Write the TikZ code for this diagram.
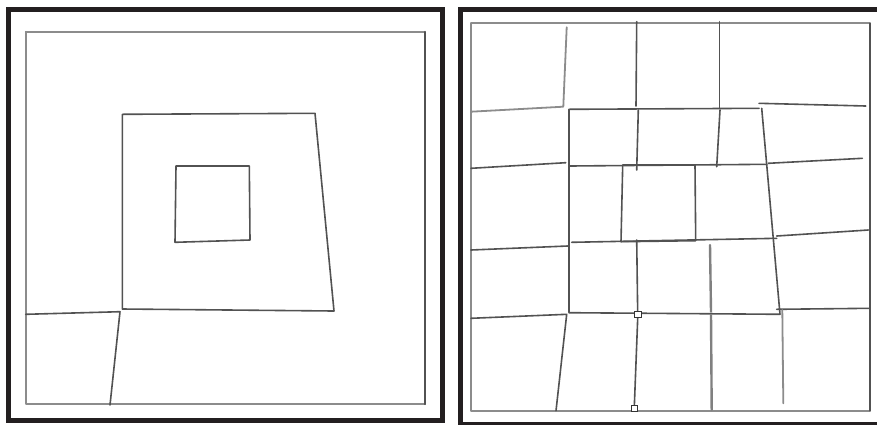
\documentclass[tikz,border=0pt]{standalone}
\begin{document}
\begin{tikzpicture}[x=1pt,y=-1pt,
  frame/.style={line width=5pt,draw={rgb,255:red,35;green,31;blue,32}},
  wall/.style={line width=1.6pt,draw=black!68,line cap=round,line join=round},
  lightwall/.style={line width=1.8pt,draw=black!45,line cap=round,line join=round},
  thickwall/.style={line width=2.4pt,draw=black!50,line cap=round},
  mark box/.style={draw=black!80,line width=0.8pt,fill=white,minimum size=6.5pt,inner sep=0pt}]
\useasboundingbox (0,0) rectangle (877,424);
\fill[white] (0,0) rectangle (877,424);
% ---------- left panel ----------
\draw[frame] (8.5,9.8) rectangle (442.5,420.5);
\draw[lightwall] (25.7,31.7) -- (425,31.7);
\draw[lightwall] (25.7,31.7) -- (25.7,404.3) -- (425,404.3);
\draw[wall] (425,31.7) -- (425,404.3);
\draw[wall] (122.3,114.3) -- (315,113.3) -- (334,311) -- (122.3,309) -- cycle;
\draw[wall] (176,166) -- (249.3,166) -- (250,240) -- (175,242.3) -- cycle;
\draw[wall] (25.7,314.3) -- (120,311.7) -- (110,405);
% ---------- right panel ----------
\begin{scope}
\clip (455,0) rectangle (877,424);
\draw[frame] (460.8,9.8) rectangle (900,424.8);
\end{scope}
\draw[lightwall] (471,23.3) -- (870,23.3);
\draw[lightwall] (471,23.3) -- (471,410.7) -- (870,410.7);
\draw[wall] (870,23.3) -- (870,410.7);
% top row
\draw[lightwall] (566.7,27.3) -- (563.3,106.7) -- (471,111.7);
\draw[wall] (636.7,21.7) -- (636,106);
\draw[wall] (719.3,21.7) -- (719.3,108.3);
% second ring
\draw[wall] (569,109.3) -- (759,108.3);
\draw[wall] (761.7,108.3) -- (780,314.3) -- (569,312.7) -- (569,109.3);
\draw[wall] (759,103.3) -- (865.7,106);
% inside ring
\draw[wall] (638.3,110) -- (636.7,170);
\draw[wall] (720,110) -- (716.7,166.7);
\draw[wall] (570,166) -- (766.7,164.3);
\draw[wall] (471,168.3) -- (565.7,162.7);
\draw[wall] (768.3,163.3) -- (862.3,158.3);
\draw[wall] (622.7,165) -- (695,165) -- (695.7,240.7) -- (621,241.7) -- cycle;
\draw[wall] (571.7,242.3) -- (776.7,238.3);
\draw[wall] (776.7,236) -- (868.3,230);
\draw[wall] (471,250) -- (567.7,246);
\draw[wall] (636.7,240) -- (637.7,314.3);
\draw[thickwall] (710,245) -- (711,311.7);
\draw[thickwall] (711,315) -- (711.7,410);
\draw[wall] (637.7,318.3) -- (634.3,406.7);
% bottom row
\draw[wall] (471,318.3) -- (566.7,314.3) -- (556,410.7);
\draw[wall] (776.7,309.3) -- (870,308.3);
\draw[lightwall] (782.3,310) -- (783.3,403.3);
\node[mark box] (m1) at (637.7,314.3) {};
\node[mark box] (m2) at (634.3,408.3) {};
\end{tikzpicture}
\end{document}
